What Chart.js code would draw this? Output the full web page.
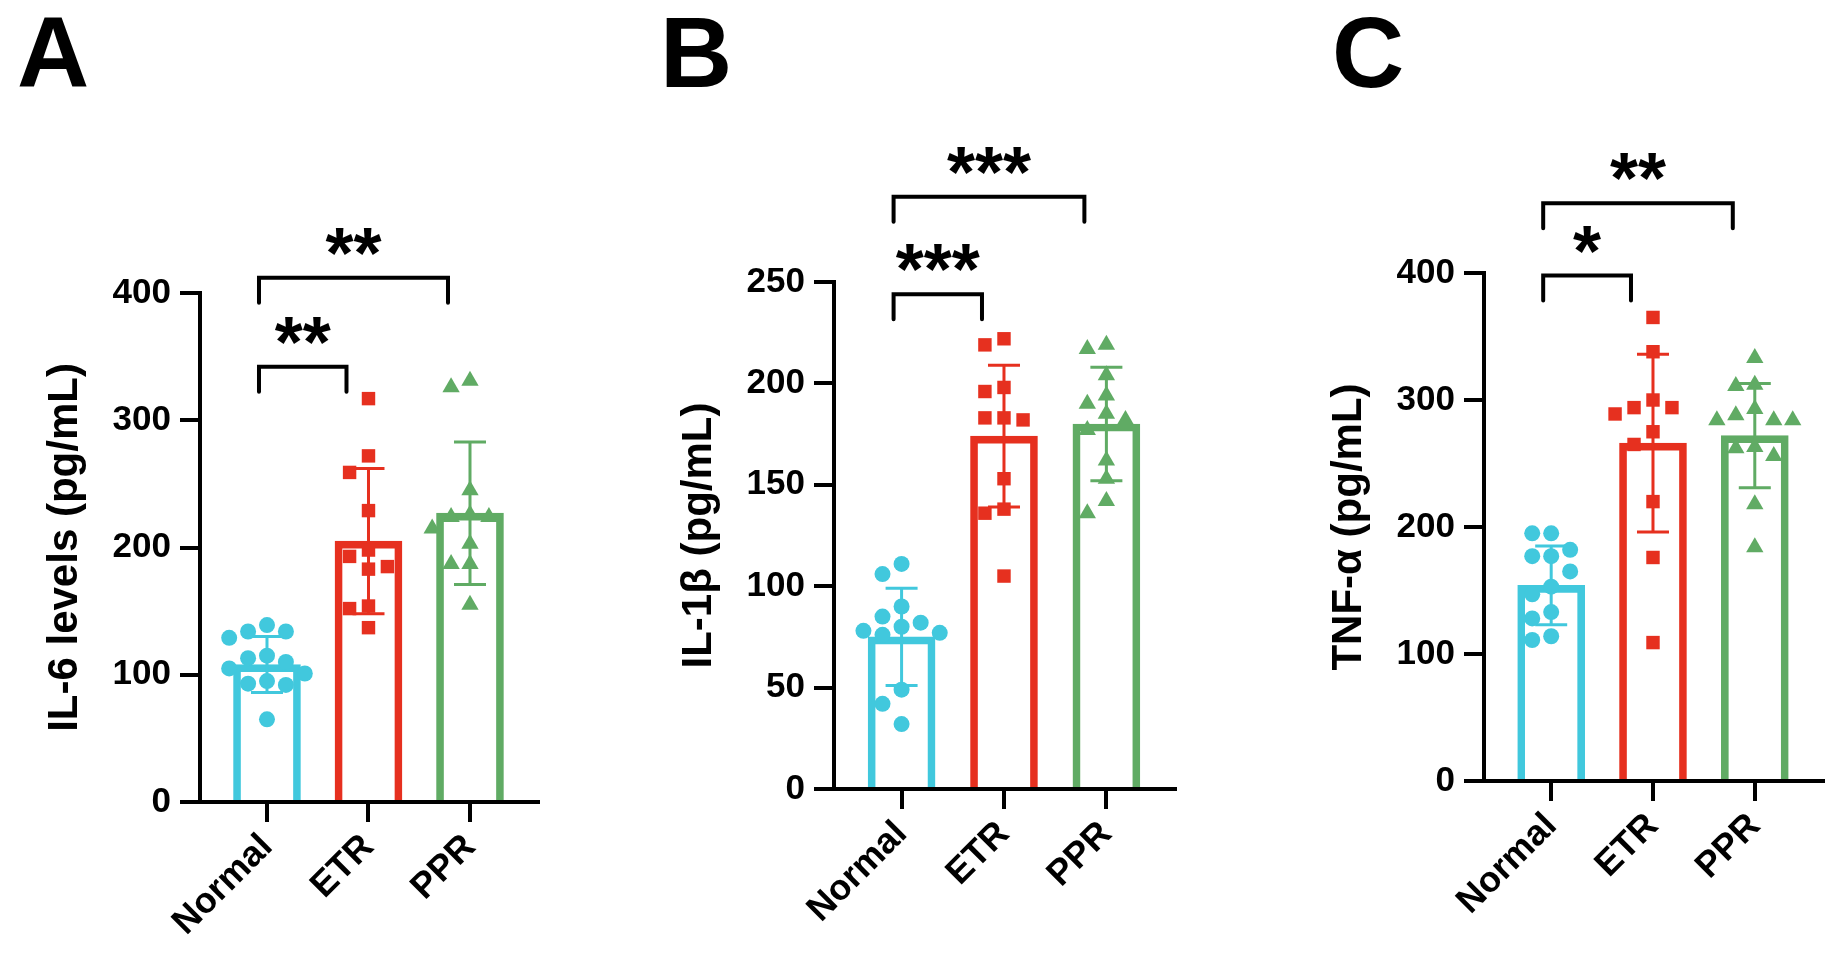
<!DOCTYPE html>
<html>
<head>
<meta charset="utf-8">
<script src="https://cdn.jsdelivr.net/npm/chart.js@4.4.1/dist/chart.umd.min.js"></script>
<style>
  html, body { margin: 0; padding: 0; background: #fff; }
  #wrap { position: relative; width: 1843px; height: 969px; }
  canvas { position: absolute; top: 0; }
</style>
</head>
<body>
<div id="wrap">
  <canvas id="chartA" width="614" height="969" style="left:0px"></canvas>
  <canvas id="chartB" width="614" height="969" style="left:614px"></canvas>
  <canvas id="chartC" width="615" height="969" style="left:1228px"></canvas>
</div>
<script>
var groups = ['Normal', 'ETR', 'PPR'];
var colors = ['#41c8dd', '#e6301f', '#60ab64'];
var shapes = ['circle', 'rect', 'triangle'];
var radii = [8, 9.5, 10];

// A - IL-6
var il6Normal = [139, 134, 134, 129, 115, 113, 110, 105, 101, 95, 93, 92, 65];
var il6ETR = [317, 272, 259, 229, 198, 193, 185, 183, 154, 152, 137];
var il6PPR = [331, 326, 245, 226, 224, 224, 215, 203, 187, 187, 155];
var il6Mean = [108, 205, 227];
var il6SD = [22, 57, 56];
var il6Ticks = [0, 100, 200, 300, 400];
var il6SigPairs = [[0, 1], [0, 2]];
var il6SigLevel = [342, 412];
var il6SigText = ['**', '**'];

// B - IL-1beta
var il1bNormal = [111, 106, 90, 85, 82, 80, 78, 77, 76, 49, 42, 32];
var il1bETR = [222, 219, 198, 196, 183, 183, 182, 153, 138, 136, 105];
var il1bPPR = [219, 217, 204, 194, 190, 185, 182, 177, 162, 153, 142, 136];
var il1bMean = [75, 174, 180];
var il1bSD = [24, 35, 28];
var il1bTicks = [0, 50, 100, 150, 200, 250];
var il1bSigPairs = [[0, 1], [0, 2]];
var il1bSigLevel = [244, 292];
var il1bSigText = ['***', '***'];

// C - TNF-alpha
var tnfNormal = [195, 195, 182, 177, 177, 165, 153, 147, 133, 128, 114, 111];
var tnfETR = [365, 338, 300, 294, 294, 289, 275, 265, 220, 176, 109];
var tnfPPR = [333, 312, 311, 293, 288, 284, 284, 284, 263, 262, 256, 218, 184];
var tnfMean = [154, 266, 272];
var tnfSD = [31, 70, 41];
var tnfTicks = [0, 100, 200, 300, 400];
var tnfSigPairs = [[0, 1], [0, 2]];
var tnfSigLevel = [398, 455];
var tnfSigText = ['*', '**'];

var FONT = "'Liberation Sans', Arial, sans-serif";
Chart.defaults.font.family = FONT;

// spread points sideways when they would overlap (simple beeswarm)
function swarmOffsets(values, pxPerUnit) {
  var step = 19, minD = 18, pxPerCat = 102;
  var idx = values.map(function (v, i) { return i; });
  idx.sort(function (a, b) { return values[b] - values[a]; });
  var placed = [], out = [];
  idx.forEach(function (i) {
    var y = values[i] * pxPerUnit, off = 0;
    for (var k = 0; k < 9; k++) {
      off = (k % 2 ? -1 : 1) * Math.ceil(k / 2) * step;
      var hit = placed.some(function (p) {
        var dx = p.x - off, dy = p.y - y;
        return dx * dx + dy * dy < minD * minD;
      });
      if (!hit) break;
    }
    placed.push({ x: off, y: y });
    out[i] = off / pxPerCat;
  });
  return out;
}

function buildPanel(id, p) {
  var ymax = p.ticks[p.ticks.length - 1];
  var plotH = p.bottom - p.top;

  var datasets = [{
    type: 'bar',
    order: 10,
    data: p.means.map(function (m, i) { return { x: i, y: m }; }),
    backgroundColor: 'rgba(255,255,255,0)',
    borderColor: colors,
    borderWidth: 7,
    borderSkipped: 'start',
    barThickness: 67
  }];
  p.points.forEach(function (vals, i) {
    var offs = swarmOffsets(vals, plotH / ymax);
    datasets.push({
      type: 'scatter',
      order: 0,
      clip: false,
      data: vals.map(function (v, j) { return { x: i + offs[j], y: v }; }),
      pointStyle: shapes[i],
      pointRadius: radii[i],
      pointBackgroundColor: colors[i],
      pointBorderWidth: 0
    });
  });

  var extras = {
    id: 'extras',
    afterDatasetDraw: function (chart, args) {
      if (args.index !== 0) return;
      var ctx = chart.ctx, xs = chart.scales.x, ys = chart.scales.y;
      ctx.save();
      ctx.lineWidth = 3;
      p.means.forEach(function (m, i) {
        var x = xs.getPixelForValue(i);
        var y1 = ys.getPixelForValue(m + p.sd[i]);
        var y2 = ys.getPixelForValue(m - p.sd[i]);
        ctx.strokeStyle = colors[i];
        ctx.beginPath();
        ctx.moveTo(x, y1); ctx.lineTo(x, y2);
        ctx.moveTo(x - 16, y1); ctx.lineTo(x + 16, y1);
        ctx.moveTo(x - 16, y2); ctx.lineTo(x + 16, y2);
        ctx.stroke();
      });
      ctx.restore();
    },
    afterDraw: function (chart) {
      var ctx = chart.ctx, xs = chart.scales.x, ys = chart.scales.y;
      ctx.save();
      ctx.strokeStyle = '#000';
      ctx.fillStyle = '#000';
      ctx.lineWidth = 4;
      ctx.lineCap = 'round';
      p.sigPairs.forEach(function (pair, k) {
        var x1 = xs.getPixelForValue(pair[0]) - 8;
        var x2 = xs.getPixelForValue(pair[1]) - 22;
        var y = ys.getPixelForValue(p.sigLevel[k]);
        ctx.beginPath();
        ctx.moveTo(x1, y + 25); ctx.lineTo(x1, y); ctx.lineTo(x2, y); ctx.lineTo(x2, y + 25);
        ctx.stroke();
        ctx.font = 'bold 72px ' + FONT;
        ctx.textAlign = 'center';
        ctx.textBaseline = 'alphabetic';
        ctx.fillText(p.sigText[k], (x1 + x2) / 2, y);
      });
      ctx.font = 'bold 100px ' + FONT;
      ctx.textAlign = 'left';
      ctx.textBaseline = 'alphabetic';
      ctx.fillText(p.letter, p.letterX, 87);
      ctx.restore();
    }
  };

  var canvas = document.getElementById(id);
  return new Chart(canvas.getContext('2d'), {
    type: 'bar',
    data: { datasets: datasets },
    plugins: [extras],
    options: {
      responsive: false,
      animation: false,
      layout: {
        padding: {
          left: p.axisX - 160,
          right: canvas.width - p.xEnd,
          top: p.top,
          bottom: canvas.height - p.bottom - 150
        }
      },
      plugins: { legend: { display: false }, tooltip: { enabled: false } },
      scales: {
        x: {
          type: 'linear',
          offset: false,
          min: -0.66,
          max: 2.67,
          afterBuildTicks: function (s) { s.ticks = [0, 1, 2].map(function (v) { return { value: v }; }); },
          afterFit: function (s) { s.height = 150; },
          border: { display: true, color: '#000', width: 4 },
          grid: { display: true, offset: false, drawOnChartArea: false, drawTicks: true, tickLength: 20, color: '#000', lineWidth: 4 },
          ticks: {
            autoSkip: false,
            minRotation: 45,
            maxRotation: 45,
            padding: 4,
            color: '#000',
            font: { size: 36, weight: 'bold' },
            callback: function (v) { return groups[v]; }
          }
        },
        y: {
          min: 0,
          max: ymax,
          afterBuildTicks: function (s) { s.ticks = p.ticks.map(function (v) { return { value: v }; }); },
          afterFit: function (s) { s.width = 160; },
          border: { display: true, color: '#000', width: 4 },
          grid: { display: true, drawOnChartArea: false, drawTicks: true, tickLength: 20, color: '#000', lineWidth: 4 },
          ticks: { padding: 9, color: '#000', font: { size: 35, weight: 'bold' } },
          title: { display: true, text: p.title, color: '#000', padding: 0, font: { size: 42, weight: 'bold' } }
        }
      }
    }
  });
}

buildPanel('chartA', {
  letter: 'A', letterX: 17, title: 'IL-6 levels (pg/mL)',
  axisX: 200, xEnd: 538, top: 293, bottom: 802,
  ticks: il6Ticks, means: il6Mean, sd: il6SD,
  points: [il6Normal, il6ETR, il6PPR],
  sigPairs: il6SigPairs, sigLevel: il6SigLevel, sigText: il6SigText
});
buildPanel('chartB', {
  letter: 'B', letterX: 46, title: 'IL-1β (pg/mL)',
  axisX: 220, xEnd: 561, top: 282, bottom: 789,
  ticks: il1bTicks, means: il1bMean, sd: il1bSD,
  points: [il1bNormal, il1bETR, il1bPPR],
  sigPairs: il1bSigPairs, sigLevel: il1bSigLevel, sigText: il1bSigText
});
buildPanel('chartC', {
  letter: 'C', letterX: 104, title: 'TNF-α (pg/mL)',
  axisX: 256, xEnd: 595, top: 273, bottom: 781,
  ticks: tnfTicks, means: tnfMean, sd: tnfSD,
  points: [tnfNormal, tnfETR, tnfPPR],
  sigPairs: tnfSigPairs, sigLevel: tnfSigLevel, sigText: tnfSigText
});
</script>
</body>
</html>
